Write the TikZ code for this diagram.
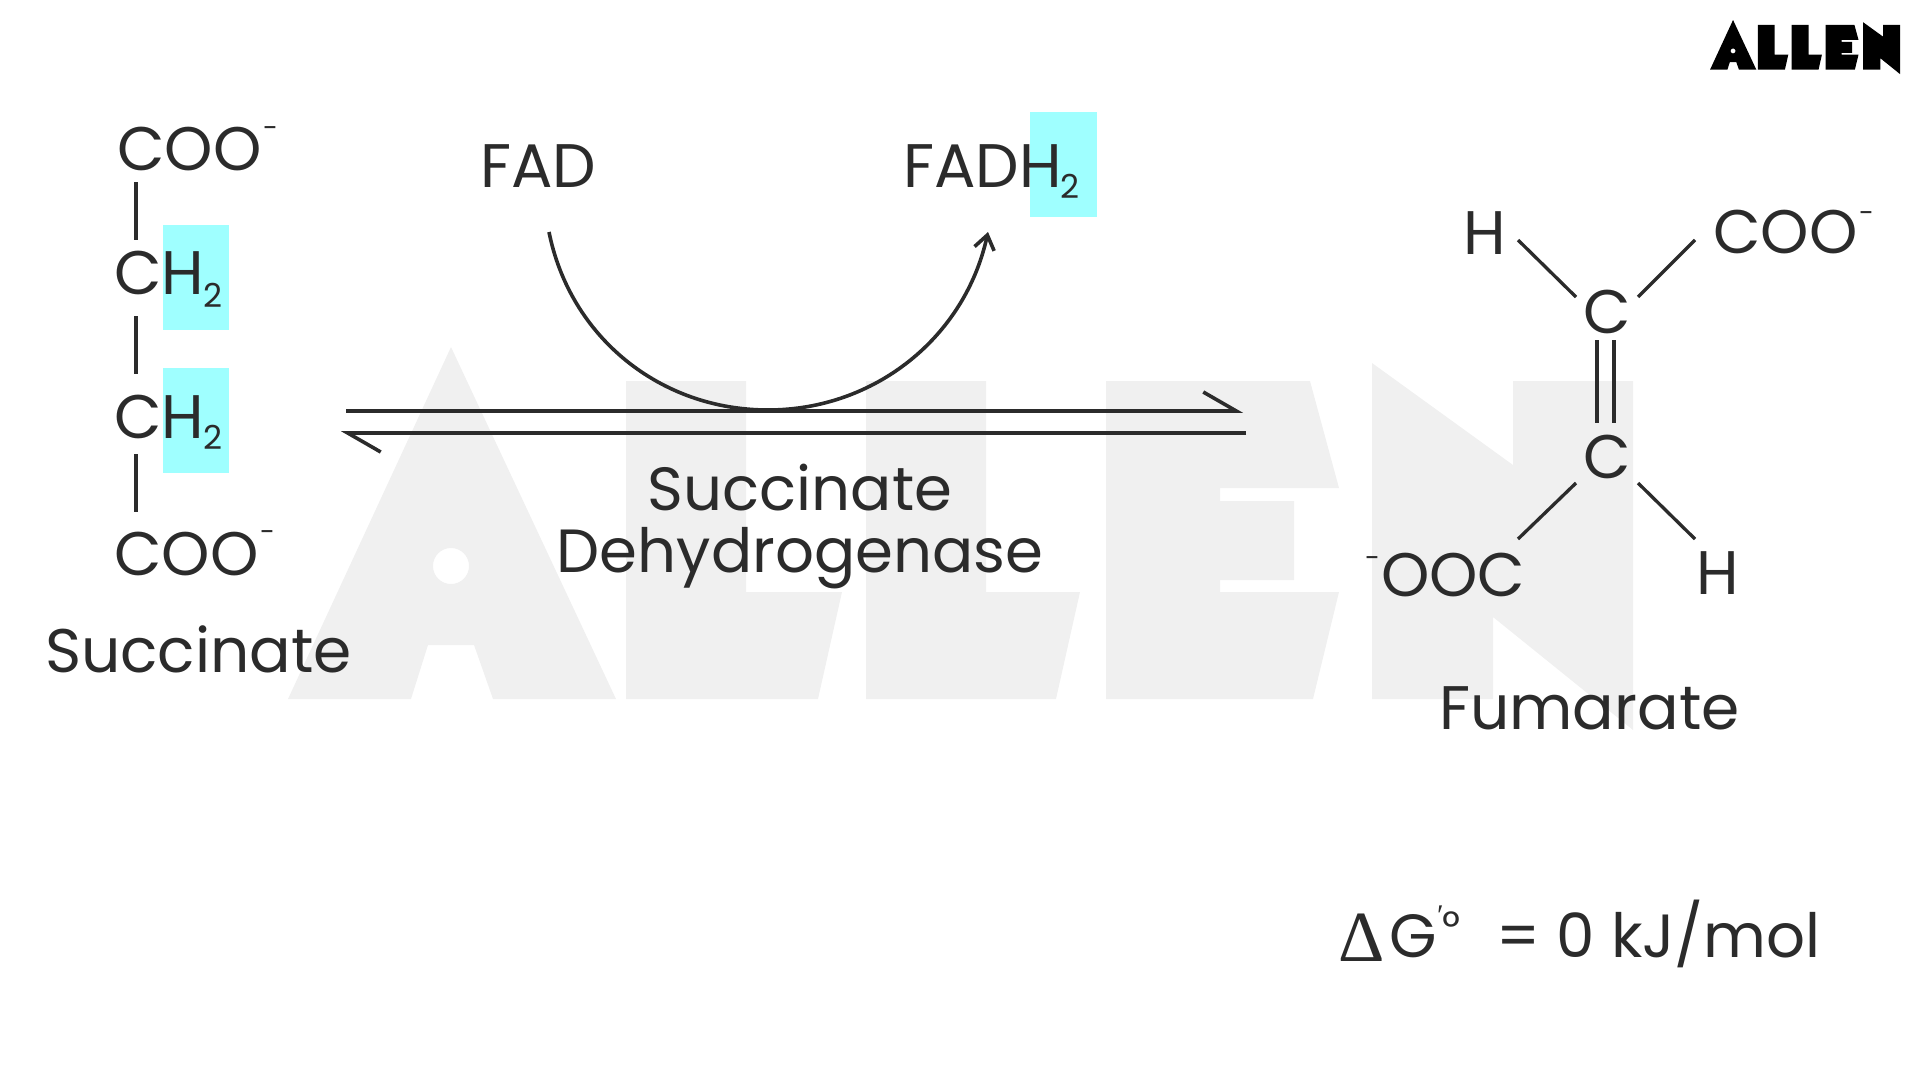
\documentclass[tikz,border=0pt]{standalone}
\usepackage{fontspec}
\setmainfont{Poppins}
\newfontfamily\symfont{Liberation Serif}
\usetikzlibrary{arrows.meta}

\definecolor{ink}{HTML}{2B2B2B}
\definecolor{wmark}{HTML}{F0F0F0}
\definecolor{hilite}{HTML}{9FFFFF}

\newcommand\allenshape{
(288,699) -- (451,347) -- (616,699) -- (493,699) -- (474,645) -- (428,645) -- (411,699) -- cycle
(451,566) circle (18)
(626,381) -- (746,381) -- (746,592) -- (842,592) -- (818,699) -- (626,699) -- cycle
(866,381) -- (986,381) -- (986,592) -- (1080,592) -- (1056,699) -- (866,699) -- cycle
(1106,381) -- (1310,381) -- (1339,488) -- (1220,488) -- (1220,501) -- (1294,501) -- (1294,580)
-- (1220,580) -- (1220,592) -- (1339,592) -- (1313,699) -- (1106,699) -- cycle
(1372,363) -- (1513,465) -- (1513,381) -- (1633,381) -- (1633,730) -- (1493,617) -- (1493,699) -- (1372,699) -- cycle
}

\tikzset{
  lbl/.style={anchor=base west, inner sep=0pt, text=ink, font=\fontsize{61.5}{66}\selectfont},
  lblb/.style={lbl, font=\fontsize{61}{66}\selectfont},
  subnum/.style={lbl, font=\fontsize{33}{36}\selectfont},
  chg/.style={lbl, font=\fontsize{27}{30}\selectfont},
  bond/.style={draw=ink, line width=3.3pt},
  rxn/.style={draw=ink, line width=3.6pt},
}

\begin{document}
\begin{tikzpicture}[x=1pt,y=-1pt]

\useasboundingbox (0,0) rectangle (1920,1080);

%% watermark and logo
\fill[wmark, even odd rule] \allenshape;
\begin{scope}[shift={(1710,20)},scale=0.1413,shift={(-288,-347)}]
\fill[black, even odd rule] \allenshape;
\end{scope}

%% highlights
\fill[hilite] (163,225) rectangle (229,330);
\fill[hilite] (163,368) rectangle (229,473);
\fill[hilite] (1030,112) rectangle (1097,217);

%% succinate
\node[lbl] (cooTop) at (117,170) {COO};
\node[chg] (minTop) at (263,137) {-};
\node[lbl] (chA) at (114,294) {CH};
\node[subnum] (subA) at (203,307) {2};
\node[lbl] (chB) at (114,438) {CH};
\node[subnum] (subB) at (203,449) {2};
\node[lbl] (cooBot) at (114,575) {COO};
\node[chg] (minBot) at (260,541) {-};
\node[lbl] (succName) at (45,672) {Succinate};

\draw[bond] ([shift={(19,12)}]cooTop.base west) -- ([shift={(22,-54)}]chA.base west);
\draw[bond] ([shift={(22,22)}]chA.base west) -- ([shift={(22,-64)}]chB.base west);
\draw[bond] ([shift={(22,16)}]chB.base west) -- ([shift={(22,-63)}]cooBot.base west);

%% cofactor
\node[lbl] (fad) at (480,187) {FAD};
\node[lbl] (fadh) at (903,187) {FADH};
\node[subnum] (subF) at (1060,198) {2};
\draw[rxn, -{Straight Barb[length=14pt,width=20pt]}]
([shift={(69,45)}]fad.base west) .. controls (570,337) and (660,410) .. (768,410)
.. controls (875,410) and (965,337) .. ([shift={(85,45)}]fadh.base west);

%% equilibrium arrows
\coordinate (rxnTopL) at (346,411);
\coordinate (rxnTopR) at (1243,411);
\coordinate (rxnBotR) at (1246,433);
\coordinate (rxnBotL) at (341,433);
\draw[rxn, -{Straight Barb[harpoon,length=33pt,width=38pt]}] (rxnTopL) -- (rxnTopR);
\draw[rxn, -{Straight Barb[harpoon,length=33pt,width=38pt]}] (rxnBotR) -- (rxnBotL);

\node[lblb, anchor=base] (enzA) at (800,510) {Succinate};
\node[lblb, anchor=base] (enzB) at (800,572) {Dehydrogenase};

%% fumarate
\node[lbl] (hTL) at (1463,254) {H};
\node[lbl] (cooR) at (1713,253) {COO};
\node[chg] (minR) at (1859,222) {-};
\node[lbl] (cTop) at (1583,333) {C};
\node[lbl] (cLow) at (1583,478) {C};
\node[chg] (minL) at (1365,567) {-};
\node[lbl] (ooc) at (1381,596) {OOC};
\node[lbl] (hBR) at (1696,594) {H};
\node[lbl] (fumName) at (1439,729) {Fumarate};

\draw[bond] ([shift={(-7,-36)}]cTop.base west) -- ([shift={(55,-14)}]hTL.base west);
\draw[bond] ([shift={(55,-36)}]cTop.base west) -- ([shift={(-18,-13)}]cooR.base west);
\draw[bond] ([shift={(-7,5)}]cLow.base west) -- ([shift={(137,-57)}]ooc.base west);
\draw[bond] ([shift={(55,5)}]cLow.base west) -- ([shift={(-1,-55)}]hBR.base west);
\draw[bond] ([shift={(14,7)}]cTop.base west) -- ([shift={(14,-55)}]cLow.base west);
\draw[bond] ([shift={(31,7)}]cTop.base west) -- ([shift={(31,-55)}]cLow.base west);

%% free energy
\node[lbl, font=\symfont\fontsize{72}{76}\selectfont] (dlt) at (1338,961) {Δ};
\node[lblb] (gee) at (1389,957) {G};
\node[lbl, font=\symfont\fontsize{30}{30}\selectfont] (prm) at (1437,925) {′};
\node[lbl, font=\fontsize{44}{44}\selectfont] (deg) at (1442,942) {°};
\node[lblb] (dgVal) at (1496,957) {= 0 kJ/mol};

\end{tikzpicture}
\end{document}
